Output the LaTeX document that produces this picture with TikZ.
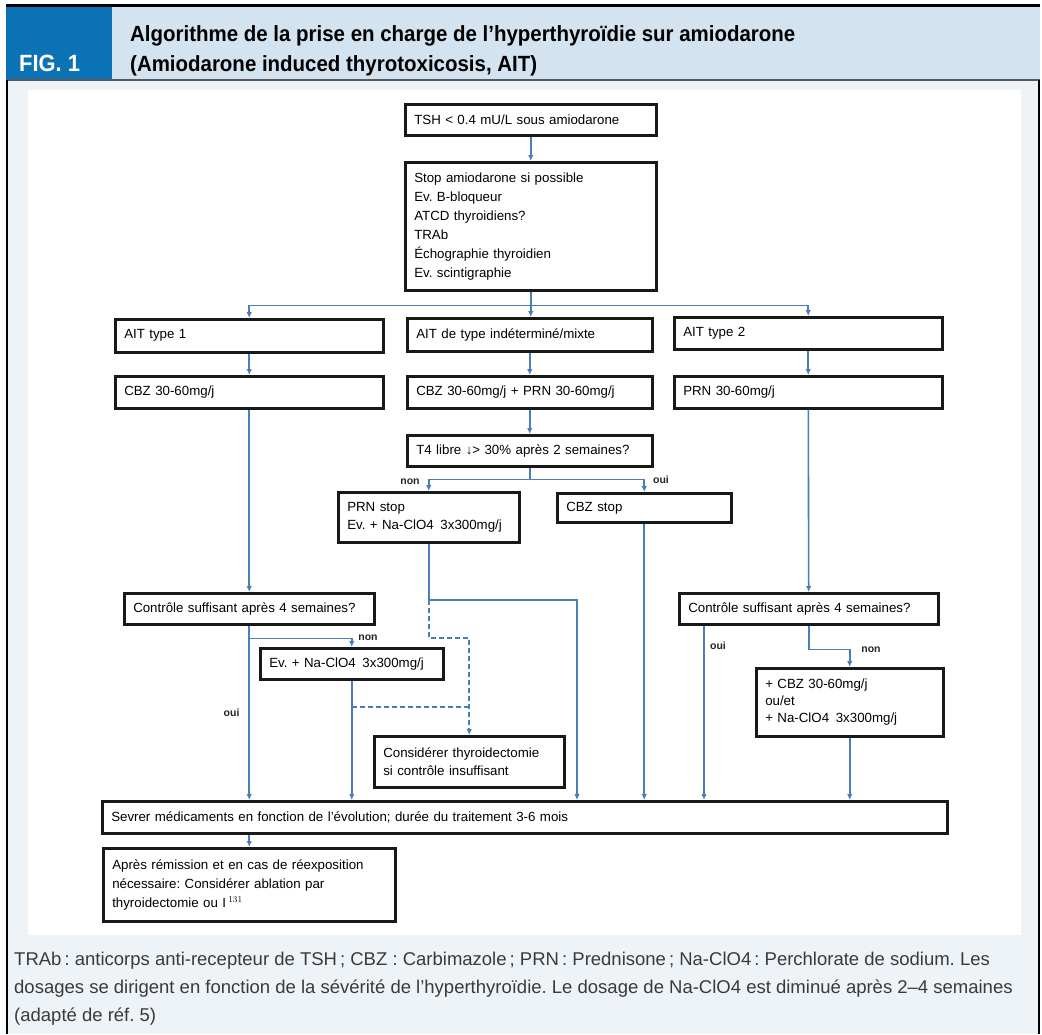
\documentclass[tikz,border=0pt]{standalone}
\usepackage{fontspec}
\setmainfont{Liberation Sans}
\newfontfamily\flowfont{Liberation Sans}
\newfontfamily\headfont[FakeStretch=0.93]{Liberation Sans}
\newfontfamily\notefont{Liberation Sans}
\usetikzlibrary{arrows.meta,positioning}
\definecolor{figblue}{HTML}{0B72B5}
\definecolor{headblue}{HTML}{D3E3F0}
\definecolor{panelgray}{HTML}{EEF3F8}
\definecolor{linkblue}{HTML}{4A7EBB}
\definecolor{notegray}{HTML}{3A3A3A}
\frenchspacing
\begin{document}
\begin{tikzpicture}[x=1pt,y=-1pt,
  flowbox/.style={draw=black!90, line width=2.5pt, fill=white, anchor=north west,
    align=left, inner xsep=9pt, inner ysep=2pt, font=\flowfont\fontsize{13.3}{18}\selectfont},
  link/.style={draw=linkblue, line width=1.6pt},
  arr/.style={link, -{Latex[length=6pt,width=5.5pt]}},
  dlink/.style={link, dash pattern=on 5pt off 3pt},
  tag/.style={font=\flowfont\bfseries\fontsize{10.5}{12}\selectfont, text=black!85, inner sep=1pt}]
\useasboundingbox (0,0) rectangle (1042,1034);
% frame and header
\fill[white] (0,0) rectangle (1042,1034);
\fill[panelgray] (6,80) rectangle (1040,1034);
\fill[white] (28,90) rectangle (1021,935);
\fill[headblue] (112,6) rectangle (1040,80);
\fill[figblue] (6,6) rectangle (112,80);
\draw[line width=3pt] (6,5) -- (1040,5);
\draw[black!65, line width=1.2pt] (6,80) -- (1040,80);
\draw[line width=2pt] (7,80) -- (7,1034) (1039,80) -- (1039,1034);
\node[anchor=base west, inner sep=0, text=white, font=\headfont\bfseries\fontsize{23.5}{26}\selectfont] (fig) at (19,71) {FIG. 1};
\node[anchor=base west, inner sep=0, font=\headfont\bfseries\fontsize{22}{26}\selectfont] (title1) at (130,41) {Algorithme de la prise en charge de l’hyperthyroïdie sur amiodarone};
\node[anchor=base west, inner sep=0, font=\headfont\bfseries\fontsize{22}{26}\selectfont] (title2) at (130,71) {(Amiodarone induced thyrotoxicosis, AIT)};

% boxes
\node[flowbox, text width=233pt, minimum height=31pt] (tsh) at (404,103) {TSH < 0.4 mU/L sous amiodarone};
\node[flowbox, text width=233pt, minimum height=128pt, font=\flowfont\fontsize{13.3}{19}\selectfont] (stop) at (404,161)
  {Stop amiodarone si possible\\ Ev. B-bloqueur\\ ATCD thyroidiens?\\ TRAb\\ Échographie thyroidien\\ Ev. scintigraphie};
\node[flowbox, text width=250pt, minimum height=33pt] (ait1) at (114,318) {AIT type 1};
\node[flowbox, text width=227pt, minimum height=33pt] (aitmix) at (406,317) {AIT de type indéterminé/mixte};
\node[flowbox, text width=250pt, minimum height=32pt] (ait2) at (673,316) {AIT type 2};
\node[flowbox, text width=250pt, minimum height=32pt] (cbz1) at (114,375) {CBZ 30-60mg/j};
\node[flowbox, text width=227pt, minimum height=32pt] (cbzmix) at (406,375) {CBZ 30-60mg/j + PRN 30-60mg/j};
\node[flowbox, text width=250pt, minimum height=32pt] (prn2) at (673,375) {PRN 30-60mg/j};
\node[flowbox, text width=227pt, minimum height=31pt] (t4) at (406,434) {T4 libre ↓> 30\% après 2 semaines?};
\node[flowbox, text width=163pt, minimum height=50pt] (prnstop) at (337,491) {PRN stop\\ Ev. + Na-ClO4\enspace 3x300mg/j};
\node[flowbox, text width=156pt, minimum height=29pt] (cbzstop) at (556,492) {CBZ stop};
\node[flowbox, text width=232pt, minimum height=31pt] (lctrl) at (123,592) {Contrôle suffisant après 4 semaines?};
\node[flowbox, text width=165pt, minimum height=31pt] (evna) at (259,647) {Ev. + Na-ClO4\enspace 3x300mg/j};
\node[flowbox, text width=241pt, minimum height=31pt] (rctrl) at (678,592) {Contrôle suffisant après 4 semaines?};
\node[flowbox, text width=169pt, minimum height=68pt, font=\flowfont\fontsize{13.3}{17}\selectfont] (cbzr) at (755,667) {+ CBZ 30-60mg/j\\ ou/et\\ + Na-ClO4\enspace 3x300mg/j};
\node[flowbox, text width=172pt, minimum height=51pt] (consider) at (373,735) {Considérer thyroidectomie\\ si contrôle insuffisant};
\node[flowbox, text width=827pt, minimum height=32pt] (sevrer) at (101,800) {Sevrer médicaments en fonction de l’évolution; durée du traitement 3-6 mois};
\node[flowbox, text width=274pt, minimum height=73pt, font=\flowfont\fontsize{13.3}{19}\selectfont] (apres) at (102,847)
  {Après rémission et en cas de réexposition\\ nécessaire: Considérer ablation par\\ thyroidectomie ou I\,$^{131}$};

% connectors
\draw[arr] (tsh) -- (stop);
\draw[link] (stop.south) -- ++(0,14) coordinate (split);
\draw[arr] (split) -| (ait1.north);
\draw[arr] (split) -| (ait2.north);
\draw[arr] (split) -- (split |- aitmix.north);
\draw[arr] (ait1) -- (cbz1);
\draw[arr] (aitmix) -- (aitmix |- cbzmix.north);
\draw[arr] (ait2) -- (prn2);
\draw[arr] (cbzmix.south) -- (cbzmix.south |- t4.north);
\draw[link] (t4.south) -- ++(0,12) coordinate (tsplit);
\draw[arr] (tsplit) -| (prnstop.north);
\draw[arr] (tsplit) -| (cbzstop.north);
\node[tag] (non1) at (410,482) {non};
\node[tag] (oui1) at (661,480) {oui};

\coordinate (pbend) at (prnstop.south |- 0,600);
\coordinate (pcol) at (577,600);
\draw[link] (prnstop.south) -- (pbend);
\draw[arr] (pbend) -- (pcol) -- (pcol |- sevrer.north);
\draw[dlink, -{Latex[length=6pt,width=5.5pt]}] (pbend) -- ++(0,38) -| (consider.north);
\coordinate (dashy) at (0,707);
\draw[dlink] (evna.south |- dashy) -- (consider.north |- dashy);
\draw[arr] (cbzstop) -- (cbzstop |- sevrer.north);

\draw[arr] (cbz1) -- (lctrl);
\draw[arr] (lctrl.south) -- (lctrl.south |- sevrer.north) node[tag, pos=0.5, left=8pt] (oui2) {oui};
\draw[arr] ([yshift=-13pt]lctrl.south) -| (evna.north);
\node[tag] (non2) at (368,638) {non};
\draw[arr] (evna) -- (evna |- sevrer.north);

\draw[arr] (prn2) -- (rctrl);
\coordinate (ouix) at (704,0);
\draw[arr] (ouix |- rctrl.south) -- (ouix |- sevrer.north);
\node[tag] (oui3) at (718,646) {oui};
\draw[arr] (rctrl.south) -- ++(0,24) -| (cbzr.north);
\node[tag] (non3) at (871,650) {non};
\draw[arr] (cbzr) -- (cbzr |- sevrer.north);
\draw[arr] (sevrer.south -| apres.north) -- (apres.north);

% caption
\node[anchor=base west, inner sep=0, text=notegray, font=\notefont\fontsize{18.5}{22}\selectfont] (note1) at (14,965)
  {TRAb\,: anticorps anti-recepteur de TSH\,; CBZ : Carbimazole\,; PRN\,: Prednisone\,; Na-ClO4\,: Perchlorate de sodium. Les};
\node[anchor=base west, inner sep=0, text=notegray, font=\notefont\fontsize{18.5}{22}\selectfont] (note2) at (14,993)
  {dosages se dirigent en fonction de la sévérité de l’hyperthyroïdie. Le dosage de Na-ClO4 est diminué après 2–4 semaines};
\node[anchor=base west, inner sep=0, text=notegray, font=\notefont\fontsize{18.5}{22}\selectfont] (note3) at (14,1021)
  {(adapté de réf. 5)};
\end{tikzpicture}
\end{document}
